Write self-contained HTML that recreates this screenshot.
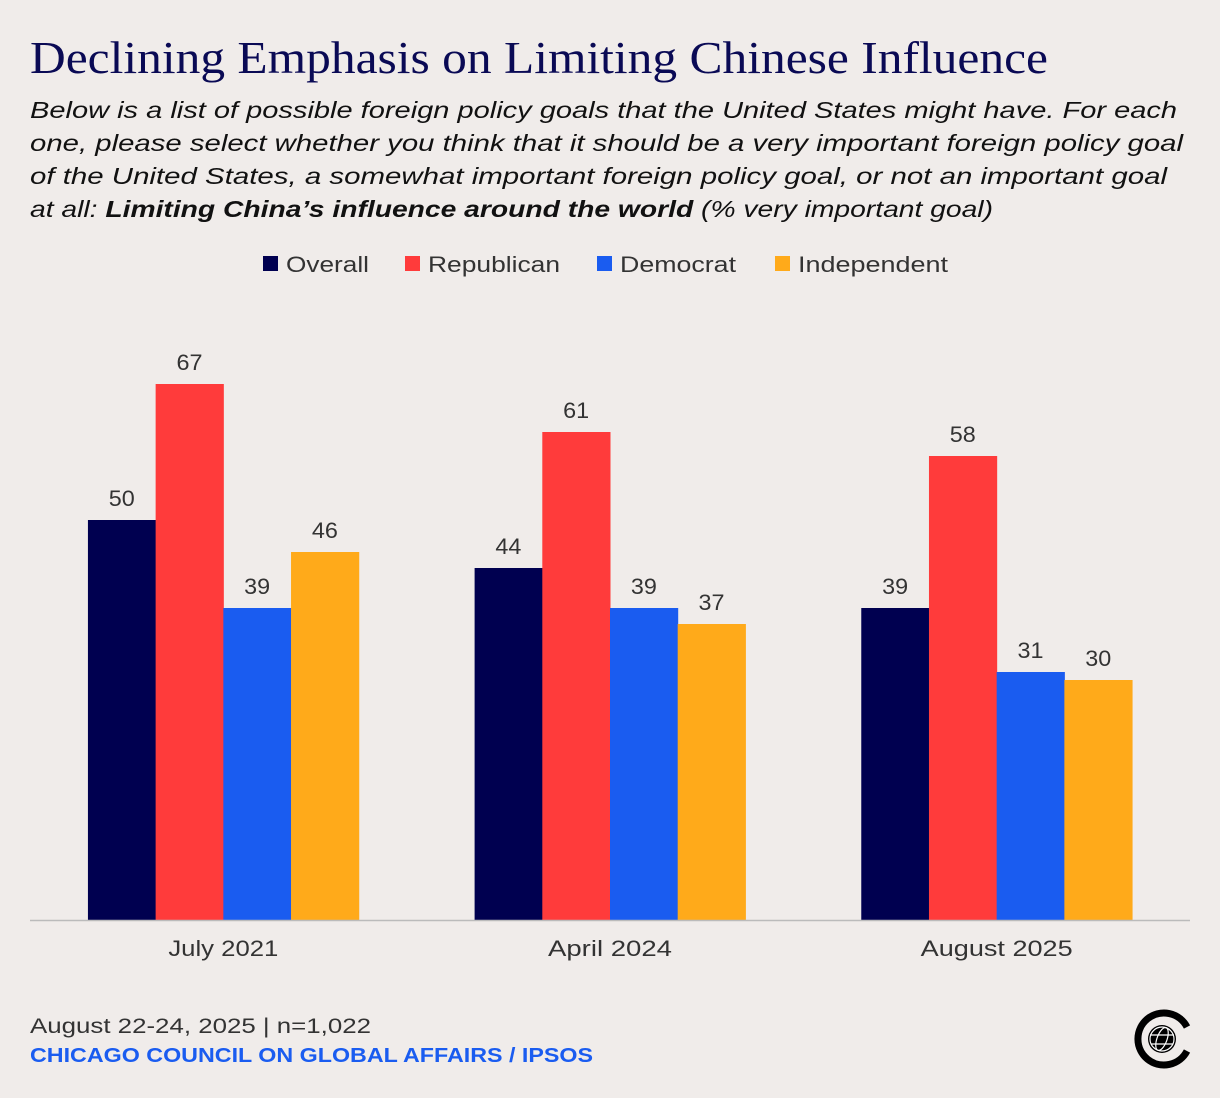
<!DOCTYPE html>
<html><head><meta charset="utf-8"><style>
body{margin:0;background:#f0ecea;}
svg{display:block;font-family:"Liberation Sans",sans-serif;}
</style></head><body>
<svg width="1220" height="1098" viewBox="0 0 1220 1098">
<rect width="1220" height="1098" fill="#f0ecea"/>
<text x="30" y="73" font-family="Liberation Serif,serif" font-size="46" fill="#0a0a55" textLength="1018" lengthAdjust="spacingAndGlyphs">Declining Emphasis on Limiting Chinese Influence</text>
<g font-size="23" font-style="italic" fill="#111">
<text x="30" y="118" textLength="1147" lengthAdjust="spacingAndGlyphs">Below is a list of possible foreign policy goals that the United States might have. For each</text>
<text x="30" y="151" textLength="1153" lengthAdjust="spacingAndGlyphs">one, please select whether you think that it should be a very important foreign policy goal</text>
<text x="30" y="184" textLength="1137" lengthAdjust="spacingAndGlyphs">of the United States, a somewhat important foreign policy goal, or not an important goal</text>
<text x="30" y="217" textLength="963" lengthAdjust="spacingAndGlyphs">at all: <tspan font-weight="bold">Limiting China’s influence around the world</tspan> (% very important goal)</text>
</g>
<g id="legend" font-size="22" fill="#333"></g>
<g id="bars"></g>
<line x1="30" y1="920.5" x2="1190" y2="920.5" stroke="#bbb" stroke-width="1.5"/>
<text x="30" y="1033" font-size="21" fill="#333" textLength="341" lengthAdjust="spacingAndGlyphs">August 22-24, 2025 | n=1,022</text>
<text x="30" y="1062" font-size="20" font-weight="bold" fill="#1a5cf0" textLength="563" lengthAdjust="spacingAndGlyphs">CHICAGO COUNCIL ON GLOBAL AFFAIRS / IPSOS</text>
<g>
<path d="M1187 1027 A26 26 0 1 0 1187 1051" fill="none" stroke="#000" stroke-width="7"/>
<circle cx="1162" cy="1039" r="14" fill="#000"/>
<g fill="none" stroke="#fff" stroke-width="1.2"><circle cx="1162" cy="1039" r="12"/><ellipse cx="1162" cy="1039" rx="5" ry="12" transform="rotate(20 1162 1039)"/><line x1="1150" y1="1035" x2="1174" y2="1035"/><line x1="1151" y1="1044" x2="1173" y2="1044"/></g>
</g>
</svg>
<script>
const categories=["July 2021","April 2024","August 2025"];
const seriesNames=["Overall","Republican","Democrat","Independent"];
const overall=[50,44,39];
const republican=[67,61,58];
const democrat=[39,39,31];
const independent=[46,37,30];
const colors=["#000050","#ff3b3b","#1a5cf0","#ffaa1a"];
const NS="http://www.w3.org/2000/svg";
const series=[overall,republican,democrat,independent];
const x0=30,x1=1190,base=920,pxPer=8;
const gw=(x1-x0)/categories.length,bw=67.7;
const tickW=[110,124,152];
const legW=[83,132,116,150];
const y=v=>base-v*pxPer;
const bars=document.getElementById('bars');
function mk(t,a){const e=document.createElementNS(NS,t);for(const k in a)e.setAttribute(k,a[k]);return e;}
categories.forEach((c,i)=>{
  const cx=x0+gw*(i+0.5),start=cx-bw*2;
  series.forEach((s,j)=>{
    const r=mk('rect',{x:start+j*bw,y:y(s[i]),width:bw+0.5,height:s[i]*pxPer,fill:colors[j]});
    
    
    bars.appendChild(r);
    const t=mk('text',{x:start+j*bw+bw/2,y:y(s[i])-14,'text-anchor':'middle','font-size':'22',fill:'#333',textLength:String(s[i]).length*13,lengthAdjust:'spacingAndGlyphs'});
    t.textContent=s[i];
    
    
    bars.appendChild(t);
  });
  const l=mk('text',{x:cx,y:956,'text-anchor':'middle','font-size':'22',fill:'#333',textLength:tickW[i],lengthAdjust:'spacingAndGlyphs'});
  l.textContent=c;
  
  
  bars.appendChild(l);
});
const leg=document.getElementById('legend');
const lx=[263,405,597,775];
seriesNames.forEach((n,j)=>{
  const r=mk('rect',{x:lx[j],y:256,width:15,height:15,fill:colors[j]});
  
  
  leg.appendChild(r);
  const t=mk('text',{x:lx[j]+23,y:272,textLength:legW[j],lengthAdjust:'spacingAndGlyphs'});
  t.textContent=n;
  
  
  leg.appendChild(t);
});
</script>
</body></html>
